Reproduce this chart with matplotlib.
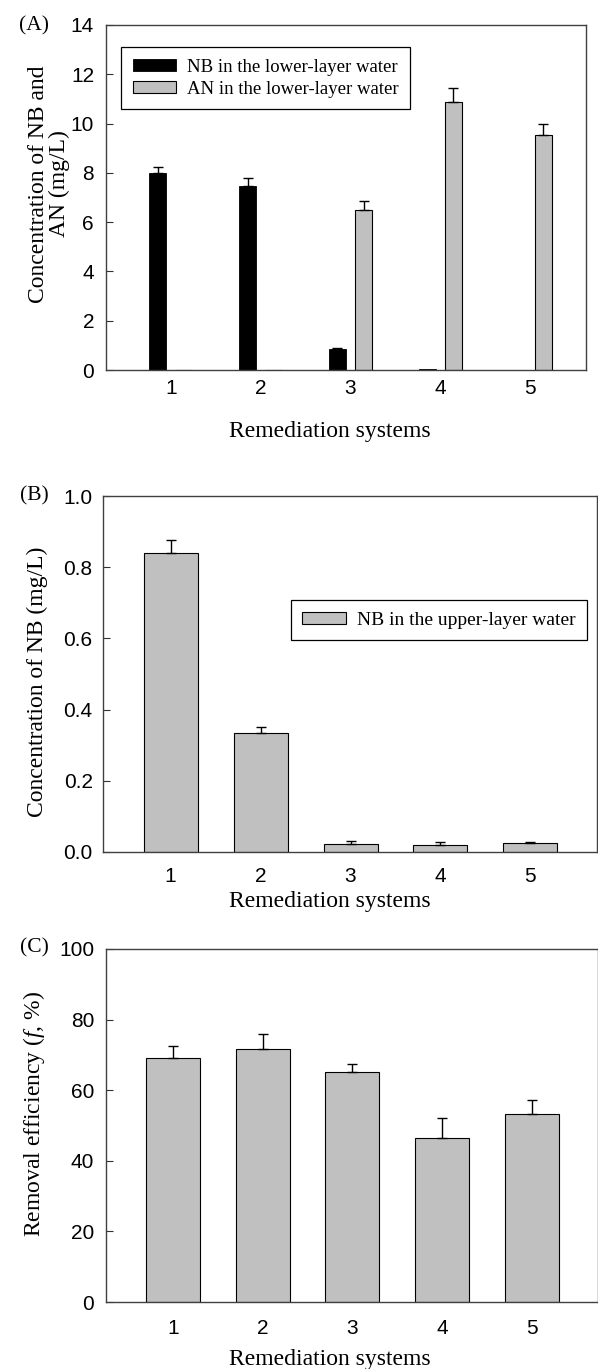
import numpy as np
import matplotlib
matplotlib.use("Agg")
import matplotlib.pyplot as plt

# data
systems = [1, 2, 3, 4, 5]

# (A) lower-layer water
nb_lower = [8.0, 7.46, 0.85, 0.04, 0.0]
nb_lower_err = [0.25, 0.33, 0.03, 0.0, 0.0]
an_lower = [0.0, 0.0, 6.5, 10.89, 9.53]
an_lower_err = [0.0, 0.0, 0.36, 0.54, 0.46]

# (B) upper-layer water
nb_upper = [0.839, 0.333, 0.022, 0.020, 0.024]
nb_upper_err = [0.038, 0.017, 0.009, 0.009, 0.004]

# (C) removal efficiency
removal = [69.1, 71.7, 65.1, 46.5, 53.2]
removal_err = [3.5, 4.2, 2.4, 5.6, 4.1]

W, H = 598, 1369
SERIF = "Liberation Serif"
SANS = "Liberation Sans"
GRAY = "#c0c0c0"
TICK_FS = 15

plt.rcParams["mathtext.fontset"] = "custom"
plt.rcParams["mathtext.rm"] = SERIF
plt.rcParams["mathtext.it"] = SERIF + ":italic"

fig = plt.figure(figsize=(W / 100, H / 100), dpi=100)


def px_axes(left, top, right, bottom):
    return fig.add_axes([left / W, 1 - bottom / H, (right - left) / W, (bottom - top) / H])


def style(ax, ylim, yticks, fmt, xpad, ypad, xlim):
    ax.set_xlim(*xlim)
    ax.set_ylim(*ylim)
    ax.set_xticks(systems)
    ax.set_yticks(yticks)
    ax.set_yticklabels([fmt.format(v) for v in yticks])
    for lab in ax.get_xticklabels() + ax.get_yticklabels():
        lab.set_fontfamily(SANS)
        lab.set_fontsize(TICK_FS)
    ax.tick_params(axis="y", direction="in", length=5, width=0.8, pad=ypad, color="#333333")
    ax.tick_params(axis="x", length=0, pad=xpad)
    for sp in ax.spines.values():
        sp.set_linewidth(1.0)
        sp.set_color("#404040")


def errs(ax, x, vals, err):
    x = np.asarray(x, float)
    vals = np.asarray(vals, float)
    err = np.asarray(err, float)
    m = err > 0
    ax.errorbar(x[m], vals[m], yerr=[np.zeros(m.sum()), err[m]], fmt="none",
                ecolor="black", elinewidth=1.0, capsize=3.5, capthick=1.0)


def ftext(x, y, s, **kw):
    fig.text(x / W, 1 - y / H, s, ha="center", va="center", **kw)


x = np.array(systems, float)

# ---- (A)
axA = px_axes(106, 25, 586, 370)
off, bw = 0.145, 0.185
axA.bar(x - off, nb_lower, bw, color="black", edgecolor="black", linewidth=0.6,
        label="NB in the lower-layer water", zorder=2)
axA.bar(x + off, an_lower, bw, color=GRAY, edgecolor="black", linewidth=0.8,
        label="AN in the lower-layer water", zorder=2)
errs(axA, x - off, nb_lower, nb_lower_err)
errs(axA, x + off, an_lower, an_lower_err)
style(axA, (0, 14), np.arange(0, 15, 2), "{:.0f}", 6.5, 8.6, (0.28, 5.62))
legA = axA.legend(loc="upper left", bbox_to_anchor=(0.031, 0.936), frameon=True,
                  fancybox=False, edgecolor="black", framealpha=1,
                  prop={"family": SERIF, "size": 13.5}, handlelength=2.3,
                  handleheight=0.55, handletextpad=0.58, labelspacing=0.26,
                  borderpad=0.62, borderaxespad=0)
legA.get_frame().set_linewidth(0.9)

ftext(34, 26, "(A)", family=SERIF, fontsize=15.5)
ftext(49, 184, "Concentration of NB and\nAN (mg/L)", family=SERIF, fontsize=17,
      rotation=90, linespacing=1.0)
ftext(330, 431, "Remediation systems", family=SERIF, fontsize=17)

# ---- (B)
axB = px_axes(102.7, 496, 597, 852)
axB.bar(x, nb_upper, 0.6, color=GRAY, edgecolor="black", linewidth=0.8,
        label="NB in the upper-layer water", zorder=2)
errs(axB, x, nb_upper, nb_upper_err)
style(axB, (0, 1.0), np.round(np.arange(0, 1.01, 0.2), 1), "{:.1f}", 10.5, 7.2, (0.245, 5.74))
legB = axB.legend(loc="upper right", bbox_to_anchor=(0.98, 0.708), frameon=True,
                  fancybox=False, edgecolor="black", framealpha=1,
                  prop={"family": SERIF, "size": 14}, handlelength=2.25,
                  handleheight=0.55, handletextpad=0.56, borderpad=0.6,
                  borderaxespad=0)
legB.get_frame().set_linewidth(0.9)

ftext(34, 496, "(B)", family=SERIF, fontsize=15.5)
ftext(37, 682, "Concentration of NB (mg/L)", family=SERIF, fontsize=17, rotation=90)
ftext(330, 902, "Remediation systems", family=SERIF, fontsize=17)

# ---- (C)
axC = px_axes(105.7, 949, 598, 1302)
axC.bar(x, removal, 0.6, color=GRAY, edgecolor="black", linewidth=0.8, zorder=2)
errs(axC, x, removal, removal_err)
style(axC, (0, 100), np.arange(0, 101, 20), "{:.0f}", 12, 8.4, (0.25, 5.74))

ftext(34, 948, "(C)", family=SERIF, fontsize=15.5)
ftext(34, 1114, r"Removal efficiency ($\mathit{f}$, %)", family=SERIF, fontsize=17,
      rotation=90)
ftext(330, 1359, "Remediation systems", family=SERIF, fontsize=17)

fig.savefig("out.png", dpi=100)
